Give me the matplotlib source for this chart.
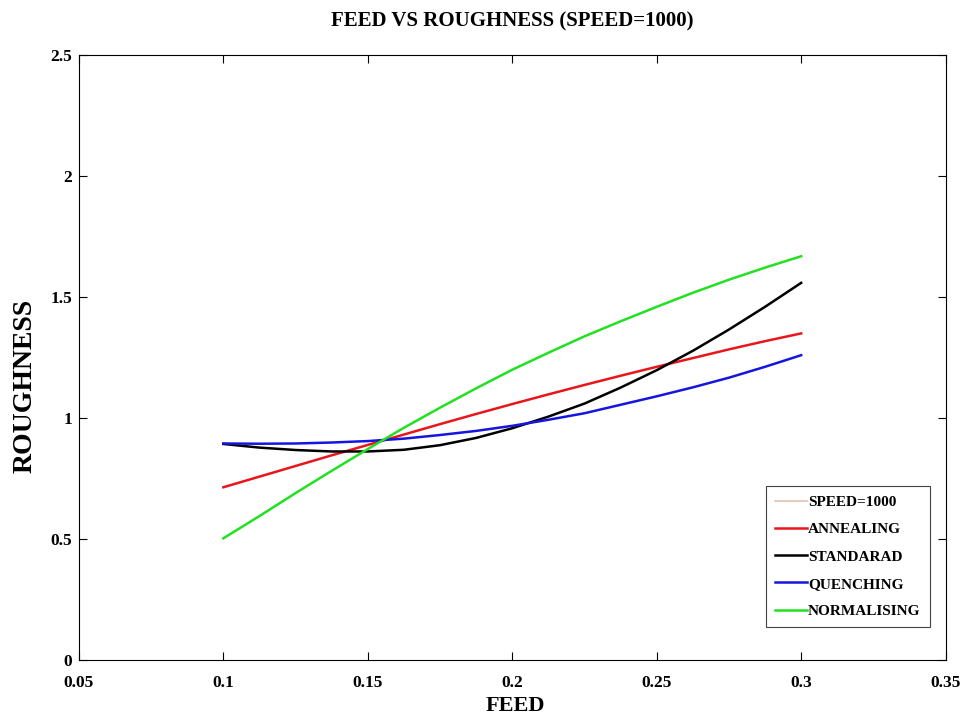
import numpy as np
import matplotlib.pyplot as plt

feed = [0.1, 0.1125, 0.125, 0.1375, 0.15, 0.1625, 0.175, 0.1875, 0.2,
        0.2125, 0.225, 0.2375, 0.25, 0.2625, 0.275, 0.2875, 0.3]
annealing = [0.714, 0.758, 0.802, 0.846, 0.889, 0.932, 0.975, 1.017, 1.058,
             1.098, 1.137, 1.175, 1.212, 1.248, 1.284, 1.318, 1.350]
standarad = [0.893, 0.878, 0.868, 0.862, 0.862, 0.869, 0.888, 0.918, 0.958,
             1.006, 1.060, 1.126, 1.198, 1.278, 1.366, 1.460, 1.559]
quenching = [0.895, 0.894, 0.895, 0.899, 0.905, 0.915, 0.930, 0.947, 0.968,
             0.993, 1.020, 1.055, 1.090, 1.127, 1.167, 1.212, 1.260]
normalising = [0.503, 0.595, 0.690, 0.782, 0.872, 0.960, 1.043, 1.123, 1.200,
               1.270, 1.338, 1.400, 1.460, 1.518, 1.572, 1.622, 1.669]

xticks = [0.05, 0.1, 0.15, 0.2, 0.25, 0.3, 0.35]
xticklabels = ['0.05', '0.1', '0.15', '0.2', '0.25', '0.3', '0.35']
yticks = [0, 0.5, 1, 1.5, 2, 2.5]
yticklabels = ['0', '0.5', '1', '1.5', '2', '2.5']

plt.rcParams['font.family'] = 'Liberation Serif'
plt.rcParams['font.weight'] = 'bold'

fig = plt.figure(figsize=(9.62, 7.17), dpi=100)
ax = fig.add_axes([0.082, 0.0795, 0.901, 0.8435])

ax.plot([], [], color='#e2c2ad', lw=1.2, label='SPEED=1000')
ax.plot(feed, annealing, color='#e8161b', lw=1.8, label='ANNEALING')
ax.plot(feed, standarad, color='#000000', lw=1.8, label='STANDARAD')
ax.plot(feed, quenching, color='#1515e0', lw=1.8, label='QUENCHING')
ax.plot(feed, normalising, color='#22e022', lw=1.8, label='NORMALISING')

ax.set_xlim(0.05, 0.35)
ax.set_ylim(0, 2.5)
ax.set_xticks(xticks)
ax.set_xticklabels(xticklabels)
ax.set_yticks(yticks)
ax.set_yticklabels(yticklabels)
ax.tick_params(direction='in', top=True, right=True, labelsize=12.5, length=6)
ax.tick_params(axis='x', pad=11)
ax.tick_params(axis='y', pad=5)
for s in ax.spines.values():
    s.set_linewidth(0.8)

ax.set_title('FEED VS ROUGHNESS (SPEED=1000)', fontsize=15, fontweight='bold', pad=21)
ax.set_xlabel('FEED', fontsize=16, fontweight='bold', va='center')
ax.xaxis.set_label_coords(0.504, -0.076)
ax.set_ylabel('ROUGHNESS', fontsize=20, fontweight='bold', va='center')
ax.yaxis.set_label_coords(-0.062, 0.453)

leg = ax.legend(loc='lower right', bbox_to_anchor=(0.9815, 0.0545), borderaxespad=0,
                fontsize=11, handlelength=2.1, handletextpad=0.05, borderpad=0.6,
                labelspacing=0.88, fancybox=False, framealpha=1)
leg.get_frame().set_edgecolor('#444444')
leg.get_frame().set_linewidth(0.8)

plt.savefig('out.png', dpi=100)
